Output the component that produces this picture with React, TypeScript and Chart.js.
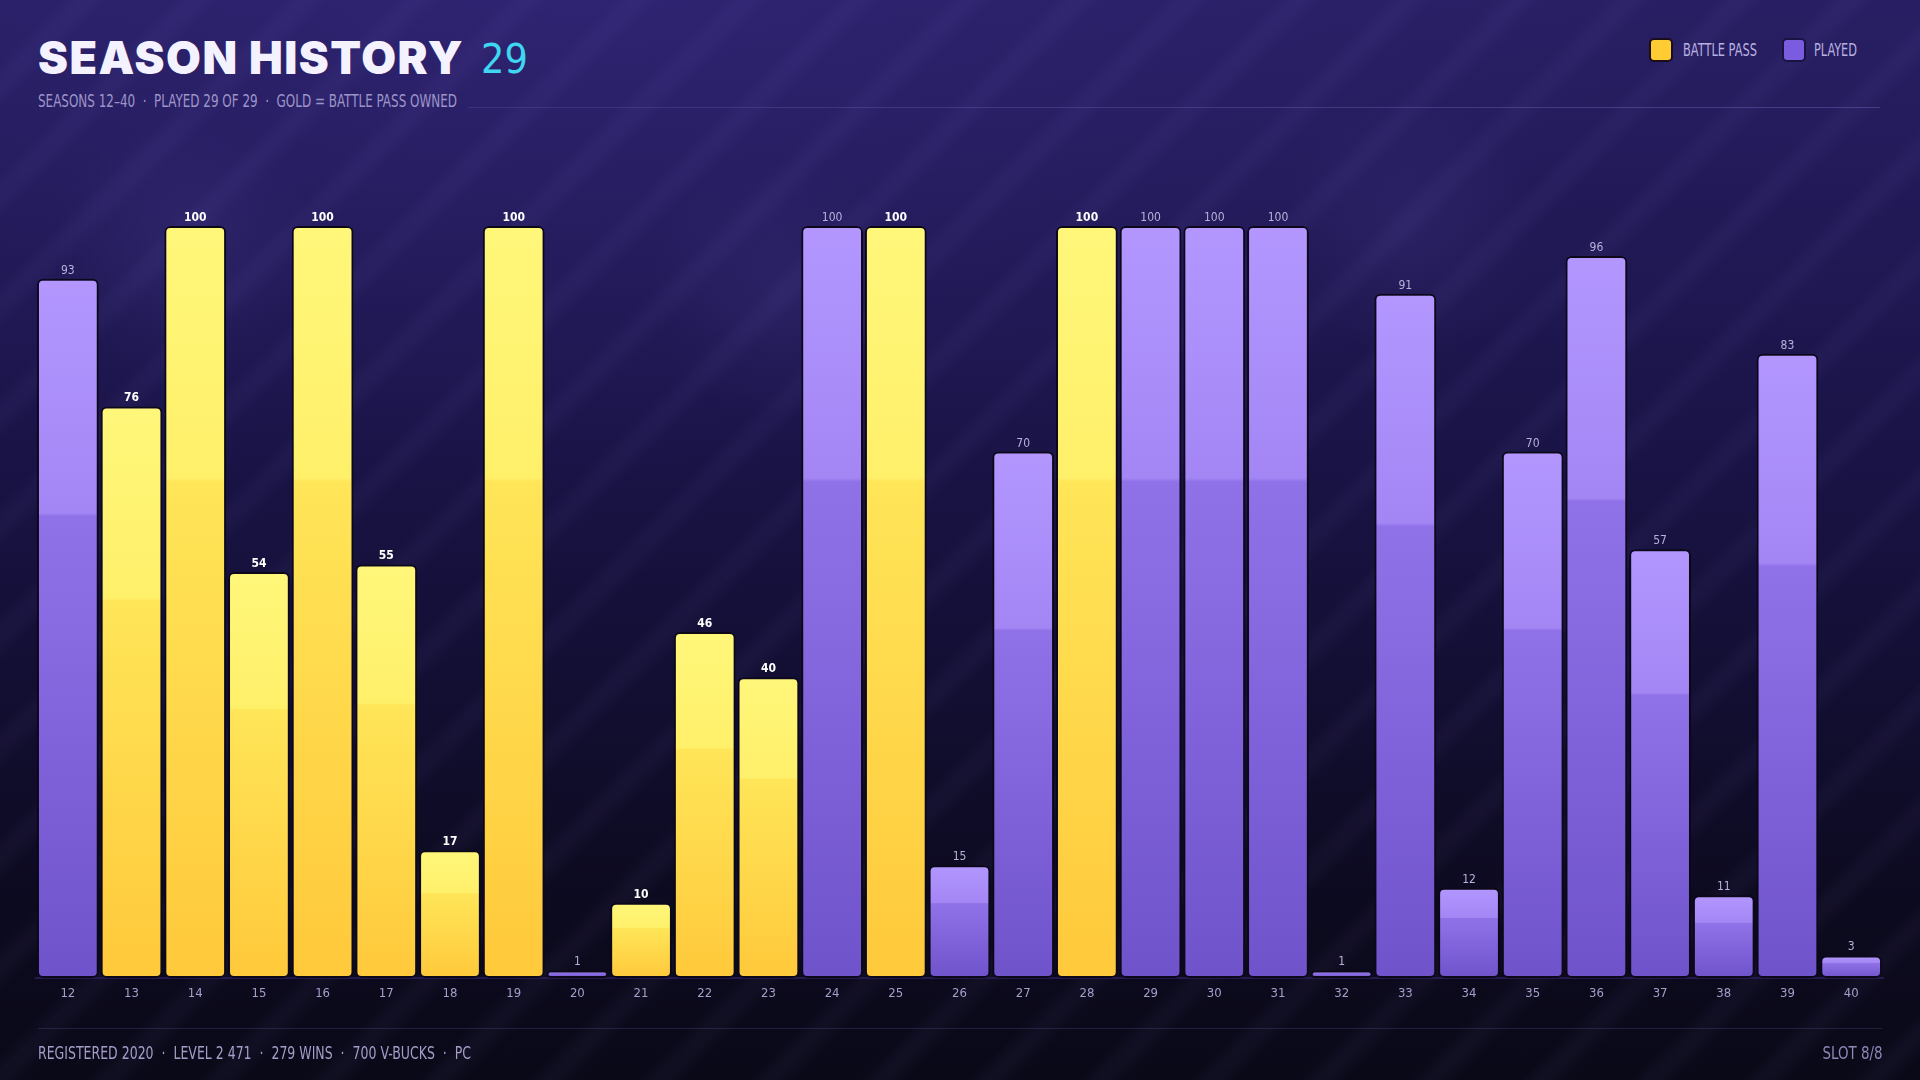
import React, { useEffect, useLayoutEffect, useRef } from 'react';
import { Chart, registerables } from 'chart.js';

Chart.register(...registerables);

// ---------- data ----------
const SEASONS = ['12', '13', '14', '15', '16', '17', '18', '19', '20', '21', '22', '23', '24', '25', '26', '27', '28', '29', '30', '31', '32', '33', '34', '35', '36', '37', '38', '39', '40'];
const PROGRESS = [93, 76, 100, 54, 100, 55, 17, 100, 1, 10, 46, 40, 100, 100, 15, 70, 100, 100, 100, 100, 1, 91, 12, 70, 96, 57, 11, 83, 3];
const BATTLE_PASS = [false, true, true, true, true, true, true, true, false, true, true, true, false, true, false, false, true, false, false, false, false, false, false, false, false, false, false, false, false];
const SERIES_LABELS = ['BATTLE PASS', 'PLAYED'];
const TITLE = 'SEASON HISTORY';
const TITLE_COUNT = '29';
const SUBTITLE = 'SEASONS 12–40  ·  PLAYED 29 OF 29  ·  GOLD = BATTLE PASS OWNED';
const FOOTER_LEFT = 'REGISTERED 2020  ·  LEVEL 2 471  ·  279 WINS  ·  700 V-BUCKS  ·  PC';
const FOOTER_RIGHT = 'SLOT 8/8';

const battlePassData = PROGRESS.map((v, i) => (BATTLE_PASS[i] ? v : null));
const playedData = PROGRESS.map((v, i) => (BATTLE_PASS[i] ? null : v));

// ---------- styles ----------
const NARROW = '"Liberation Sans Narrow", "DejaVu Sans Condensed", "Arial Narrow", sans-serif';
const GOLD_STOPS: [number, string][] = [[0, '#fff77a'], [0.335, '#fff06a'], [0.34, '#ffe558'], [1, '#ffc93b']];
const PURPLE_STOPS: [number, string][] = [[0, '#b397ff'], [0.335, '#a386f4'], [0.34, '#9072e8'], [1, '#6f53cb']];

function barFill(stops: [number, string][], fallback: string) {
  return (c: any) => {
    const chart = c.chart;
    if (c.type !== 'data' || !chart.chartArea) return fallback;
    const v = c.raw;
    if (v == null) return fallback;
    const ys = chart.scales.y;
    const top = ys.getPixelForValue(v);
    const bottom = ys.getPixelForValue(0);
    if (!isFinite(top) || !isFinite(bottom) || bottom - top < 1) return fallback;
    const g = chart.ctx.createLinearGradient(0, top, 0, bottom);
    stops.forEach(([o, col]) => g.addColorStop(o, col));
    return g;
  };
}

const valueLabels = {
  id: 'valueLabels',
  afterDatasetsDraw(chart: any) {
    const { ctx } = chart;
    chart.data.datasets.forEach((ds: any, di: number) => {
      const meta = chart.getDatasetMeta(di);
      meta.data.forEach((el: any, i: number) => {
        const v = ds.data[i];
        if (v == null) return;
        ctx.save();
        ctx.font = (di === 0 ? 'bold ' : '') + '12px ' + NARROW;
        ctx.fillStyle = di === 0 ? '#ffffff' : '#b9b1da';
        ctx.textAlign = 'center';
        ctx.textBaseline = 'alphabetic';
        ctx.fillText(String(v), el.x, el.y - 5);
        ctx.restore();
      });
    });
  },
};

function FitText({ text, width, style, align = 'left' }: { text: string; width: number; style: React.CSSProperties; align?: 'left' | 'right' }) {
  const ref = useRef<HTMLSpanElement>(null);
  useLayoutEffect(() => {
    const el = ref.current;
    if (!el) return;
    el.style.transform = 'none';
    const w = el.getBoundingClientRect().width;
    if (w > 0) el.style.transform = `scaleX(${width / w})`;
  }, [text, width]);
  return (
    <span
      ref={ref}
      style={{
        position: 'absolute',
        whiteSpace: 'pre',
        display: 'inline-block',
        transformOrigin: align === 'left' ? 'left center' : 'right center',
        ...style,
      }}
    >
      {text}
    </span>
  );
}

const BG = [
  'repeating-linear-gradient(135deg, rgba(170,150,255,0) 0px, rgba(170,150,255,0) 44px, rgba(170,150,255,0.038) 56px, rgba(170,150,255,0.038) 64px, rgba(170,150,255,0) 78px)',
  'radial-gradient(130px circle at 185px 245px, rgba(150,130,255,0.08), rgba(150,130,255,0) 100%)',
  'radial-gradient(130px circle at 780px 290px, rgba(150,130,255,0.07), rgba(150,130,255,0) 100%)',
  'radial-gradient(130px circle at 1410px 230px, rgba(150,130,255,0.07), rgba(150,130,255,0) 100%)',
  'radial-gradient(1100px 500px at 30% 0%, rgba(60,45,140,0.32), rgba(60,45,140,0) 100%)',
  'linear-gradient(180deg, #281f64 0%, #221a58 18%, #1a1448 40%, #120e31 65%, #0c0a1e 85%, #0a0918 100%)',
].join(', ');

export default function App() {
  const canvasRef = useRef<HTMLCanvasElement>(null);

  useEffect(() => {
    document.body.style.margin = '0';
    const canvas = canvasRef.current;
    if (!canvas) return;
    const chart = new Chart(canvas, {
      type: 'bar',
      data: {
        labels: SEASONS,
        datasets: [
          {
            label: SERIES_LABELS[0],
            data: battlePassData,
            backgroundColor: barFill(GOLD_STOPS, '#ffd84a'),
            borderColor: '#0c0818',
            borderWidth: 2,
            borderRadius: 6,
            borderSkipped: false,
          },
          {
            label: SERIES_LABELS[1],
            data: playedData,
            backgroundColor: barFill(PURPLE_STOPS, '#8d6fe6'),
            borderColor: '#0c0818',
            borderWidth: 2,
            borderRadius: 6,
            borderSkipped: false,
          },
        ],
      },
      options: {
        responsive: false,
        maintainAspectRatio: false,
        animation: false,
        layout: { padding: { left: 36, right: 37, top: 226, bottom: 72 } },
        datasets: { bar: { barPercentage: 0.97, categoryPercentage: 1 } },
        scales: {
          x: {
            stacked: true,
            grid: { display: false, drawTicks: false },
            border: { display: true, color: 'rgba(38,28,86,0.9)', width: 2 },
            ticks: {
              color: '#a59fcb',
              font: { family: NARROW, size: 13 },
              padding: 8,
              maxRotation: 0,
              autoSkip: false,
            },
            afterFit: (scale: any) => {
              scale.height = 30;
            },
          },
          y: { stacked: true, display: false, min: 0, max: 100 },
        },
        plugins: {
          legend: { display: false },
          tooltip: { enabled: false },
        },
      },
      plugins: [valueLabels],
    } as any);
    return () => chart.destroy();
  }, []);

  return (
    <div
      style={{
        position: 'fixed',
        left: 0,
        top: 0,
        width: 1920,
        height: 1080,
        overflow: 'hidden',
        background: BG,
        fontFamily: NARROW,
      }}
    >
      {/* header */}
      <div
        style={{
          position: 'absolute',
          left: 38,
          top: 35,
          fontFamily: 'Inter, "DejaVu Sans", sans-serif',
          fontWeight: 900,
          fontSize: 45,
          lineHeight: '45px',
          letterSpacing: 1.5,
          color: '#f4f2ff',
          whiteSpace: 'pre',
        }}
      >
        {TITLE}
      </div>
      <div
        style={{
          position: 'absolute',
          left: 481,
          top: 39,
          fontFamily: NARROW,
          fontSize: 41,
          lineHeight: '41px',
          color: '#3fd6f2',
        }}
      >
        {TITLE_COUNT}
      </div>
      <FitText
        text={SUBTITLE}
        width={419}
        style={{ left: 38, top: 93, fontSize: 17, lineHeight: '17px', color: '#9d95c9' }}
      />
      <div
        style={{
          position: 'absolute',
          left: 468,
          top: 107,
          width: 1412,
          height: 1,
          background: 'linear-gradient(90deg, rgba(150,135,230,0.16), rgba(150,135,230,0.3))',
        }}
      />

      {/* legend */}
      <div
        style={{
          position: 'absolute',
          left: 1649,
          top: 38,
          width: 20,
          height: 20,
          borderRadius: 5,
          background: '#ffcc33',
          border: '2px solid #1c0d1c',
        }}
      />
      <FitText text={SERIES_LABELS[0]} width={74} style={{ left: 1683, top: 42, fontSize: 17, lineHeight: '17px', color: '#b8b0e0' }} />
      <div
        style={{
          position: 'absolute',
          left: 1782,
          top: 38,
          width: 20,
          height: 20,
          borderRadius: 5,
          background: '#7a5ce0',
          border: '2px solid #1a1240',
        }}
      />
      <FitText text={SERIES_LABELS[1]} width={43} style={{ left: 1814, top: 42, fontSize: 17, lineHeight: '17px', color: '#b8b0e0' }} />

      <canvas
        ref={canvasRef}
        width={1920}
        height={1080}
        style={{ position: 'absolute', left: 0, top: 0, width: 1920, height: 1080 }}
      />

      {/* footer */}
      <div
        style={{
          position: 'absolute',
          left: 38,
          top: 1028,
          width: 1844,
          height: 1,
          background: 'rgba(150,135,230,0.16)',
        }}
      />
      <FitText text={FOOTER_LEFT} width={433} style={{ left: 38, top: 1044, fontSize: 18, lineHeight: '18px', color: '#a49dc8' }} />
      <FitText
        text={FOOTER_RIGHT}
        width={60}
        align="right"
        style={{ right: 38, top: 1044, fontSize: 18, lineHeight: '18px', color: '#8e87b8' }}
      />
    </div>
  );
}
